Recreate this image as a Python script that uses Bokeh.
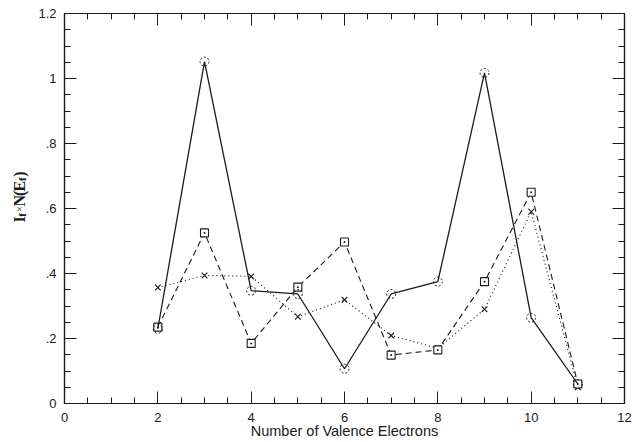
import math
from bokeh.plotting import figure
from bokeh.layouts import row
from bokeh.models import LinearAxis, FixedTicker, Range1d, Label
from bokeh.embed import file_html
from bokeh.resources import INLINE

# ---- data ----
electrons = [2, 3, 4, 5, 6, 7, 8, 9, 10, 11]
solid_vals = [0.230, 1.052, 0.347, 0.337, 0.107, 0.337, 0.375, 1.017, 0.264, 0.060]
square_vals = [0.235, 0.525, 0.185, 0.358, 0.497, 0.149, 0.165, 0.375, 0.650, 0.060]
cross_vals = [0.357, 0.394, 0.391, 0.267, 0.319, 0.209, 0.170, 0.290, 0.590, 0.050]

x_ticks = [0, 2, 4, 6, 8, 10, 12]
x_tick_labels = ["0", "2", "4", "6", "8", "10", "12"]
y_ticks = [0.0, 0.2, 0.4, 0.6, 0.8, 1.0, 1.2]
y_tick_labels = ["0", ".2", ".4", ".6", ".8", "1", "1.2"]
x_minor = [i * 0.5 for i in range(0, 25)]
y_minor = [round(i * 0.05, 2) for i in range(0, 25)]

x_title = "Number of Valence Electrons"

INK = "#1a1a1a"
SANS = "Liberation Sans"
SERIF = "Liberation Serif"

W, H = 632, 442
TW = 30   # width of the left strip (rotated y title)

p = figure(width=W - TW, height=H, x_range=Range1d(0, 12), y_range=Range1d(0, 1.2),
           output_backend="svg", toolbar_location=None,
           x_axis_type=None, y_axis_type=None,
           min_border_left=64 - TW, min_border_right=8, min_border_top=13, min_border_bottom=39)
p.outline_line_color = INK
p.outline_line_width = 1.2
p.background_fill_color = "white"
p.border_fill_color = "white"


def style_axis(ax, ticks, minor, labels, show_labels):
    ax.ticker = FixedTicker(ticks=ticks, minor_ticks=minor)
    ax.axis_line_color = INK
    ax.axis_line_width = 1.2
    ax.major_tick_line_color = INK
    ax.minor_tick_line_color = INK
    ax.major_tick_in = 12
    ax.major_tick_out = 0
    ax.minor_tick_in = 6
    ax.minor_tick_out = 0
    ax.major_tick_line_width = 1
    ax.minor_tick_line_width = 1
    if show_labels:
        ax.major_label_overrides = {t_: l for t_, l in zip(ticks, labels)}
        ax.major_label_text_font = SANS
        ax.major_label_text_font_size = "13px"
        ax.major_label_text_color = INK
    else:
        ax.major_label_overrides = {t_: "" for t_ in ticks}
        ax.major_label_text_font_size = "1px"
        ax.major_label_standoff = 0


xb = LinearAxis()
style_axis(xb, x_ticks, x_minor, x_tick_labels, True)
xb.major_label_standoff = 9
xb.axis_label = x_title
xb.axis_label_text_font = SANS
xb.axis_label_text_font_size = "14.5px"
xb.axis_label_text_font_style = "normal"
xb.axis_label_text_color = INK
xb.axis_label_standoff = -2
p.add_layout(xb, "below")

yl = LinearAxis()
style_axis(yl, y_ticks, y_minor, y_tick_labels, True)
yl.major_label_standoff = 8
p.add_layout(yl, "left")

xt = LinearAxis()
style_axis(xt, x_ticks, x_minor, x_tick_labels, False)
p.add_layout(xt, "above")

yr = LinearAxis()
style_axis(yr, y_ticks, y_minor, y_tick_labels, False)
p.add_layout(yr, "right")

# ---- series ----
p.line(electrons, cross_vals, line_color=INK, line_width=1.2, line_dash="1 3")
p.scatter(electrons, cross_vals, marker="x", size=8, line_color=INK, line_width=1.1)

p.line(electrons, square_vals, line_color=INK, line_width=1.1, line_dash="6 4")
p.scatter(electrons, square_vals, marker="square_dot", size=8, fill_color="white",
          line_color=INK, line_width=1.1)

p.line(electrons, solid_vals, line_color=INK, line_width=1.3)
p.scatter(electrons, solid_vals, marker="circle", size=9, fill_color=None,
          line_color=INK, line_width=1, line_dash="2 2")

# ---- left strip: rotated y title  I_f x N(E_f) ----
t = figure(width=TW, height=H, x_range=Range1d(0, TW), y_range=Range1d(0, H),
           output_backend="svg", toolbar_location=None,
           x_axis_type=None, y_axis_type=None,
           min_border_left=0, min_border_right=0, min_border_top=0, min_border_bottom=0)
t.outline_line_color = None
t.background_fill_color = "white"
t.border_fill_color = "white"

# (text, font px, style, baseline shift px, advance px)
pieces = [("I", 16, "bold", 0, 6.7), ("f", 11, "bold", 3, 5.0), ("\u00d7", 11, "normal", 0, 6.7),
          ("N", 16, "bold", 0, 11.7), ("(", 16, "bold", 0, 5.2), ("E", 16, "bold", 0, 12.0),
          ("f", 11, "bold", 3, 4.6), (")", 16, "bold", 0, 5.0)]
base_x = 18.5                 # px from left of the page
cur = H - 237.0               # bottom end of the title, px from page bottom
for txt, sz, st, dx, adv in pieces:
    t.add_layout(Label(x=base_x + dx, y=cur, text=txt, angle=math.pi / 2,
                       text_font=SERIF, text_font_size=f"{sz}px",
                       text_font_style=st, text_color=INK, text_align="left",
                       text_baseline="alphabetic"))
    cur += adv

layout = row(t, p, spacing=0)
open("out.html", "w").write(file_html(layout, INLINE))
